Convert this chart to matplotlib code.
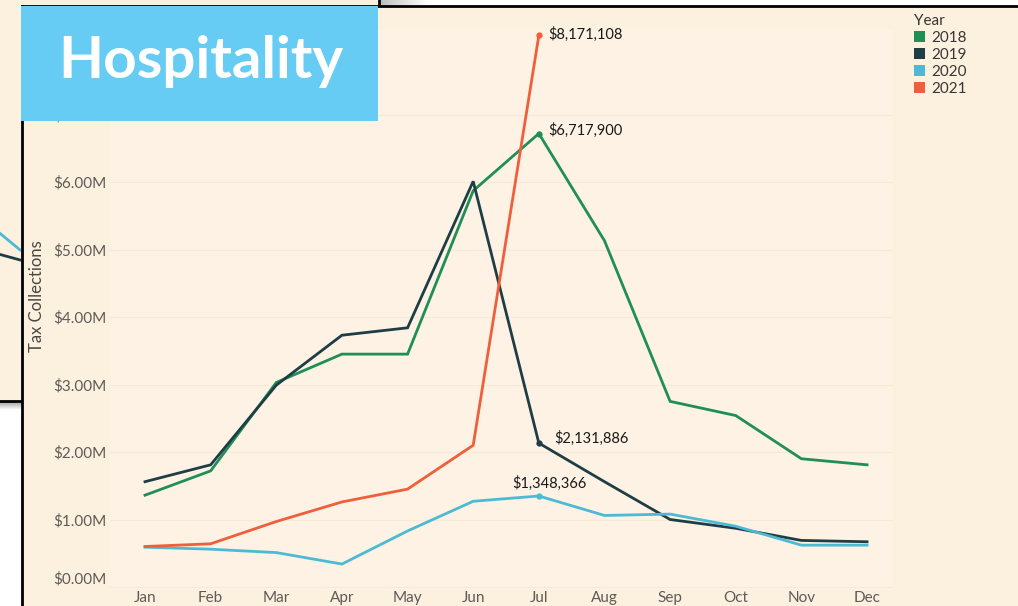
import numpy as np
import matplotlib
matplotlib.use("Agg")
import matplotlib.pyplot as plt
from matplotlib.patches import Rectangle, Patch
import matplotlib.transforms as mtransforms

# --- data (millions of dollars) ---
months = ["Jan", "Feb", "Mar", "Apr", "May", "Jun", "Jul", "Aug", "Sep", "Oct", "Nov", "Dec"]
tax_2018 = [1.36, 1.72, 3.03, 3.45, 3.45, 5.87, 6.717900, 5.13, 2.75, 2.54, 1.90, 1.81]
tax_2019 = [1.56, 1.81, 2.99, 3.73, 3.84, 6.01, 2.131886, 1.56, 1.00, 0.87, 0.69, 0.67]
tax_2020 = [0.59, 0.56, 0.51, 0.34, 0.83, 1.27, 1.348366, 1.06, 1.08, 0.90, 0.62, 0.62]
tax_2021 = [0.60, 0.64, 0.97, 1.26, 1.45, 2.10, 8.171108]
years = ["2018", "2019", "2020", "2021"]
y_ticks = [0, 1, 2, 3, 4, 5, 6, 7]

# partly hidden chart lying behind the main one
behind_months = [10, 11]
behind_2020 = [3.36, 3.0]
behind_2019 = [2.92, 2.8]

colors = {"2018": "#1F8E57", "2019": "#1F3D45", "2020": "#4DBAD5", "2021": "#EF5F3C"}
cream = "#FCF0DF"
plot_bg = "#FDF2E3"
banner_blue = "#66CCF4"

W, H = 1018, 606
FONT = ["Lato", "DejaVu Sans"]
plt.rcParams["font.family"] = FONT


def rect(x0, y0, x1, y1):
    return [x0 / W, 1 - y1 / H, (x1 - x0) / W, (y1 - y0) / H]


fig = plt.figure(figsize=(W / 100, H / 100), dpi=100, facecolor="white")

# page background with shadows
bg = fig.add_axes([0, 0, 1, 1], zorder=0)
bg.set_xlim(0, W)
bg.set_ylim(H, 0)
bg.axis("off")
grad_v = np.linspace(0.6, 1.0, 20).reshape(-1, 1)
bg.imshow(grad_v, cmap="gray", vmin=0, vmax=1, extent=(0, 30, 410, 401), aspect="auto")
grad_h = np.linspace(0.45, 1.0, 40) ** 0.4
bg.imshow(grad_h.reshape(1, -1), cmap="gray", vmin=0, vmax=1, extent=(379, 430, 6, 0), aspect="auto")

# behind panel
back = fig.add_axes(rect(-2, -2, 379, 401), zorder=1, facecolor=cream)
back.set_xlim(10, 10 + 381 / 22)
back.set_ylim(0, 8)
for s in ["top", "left"]:
    back.spines[s].set_visible(False)
back.spines["bottom"].set_linewidth(2)
back.spines["right"].set_linewidth(2)
back.set_xticks([])
back.set_yticks([])
back.plot(behind_months, behind_2020, color=colors["2020"], lw=2)
back.plot(behind_months, behind_2019, color=colors["2019"], lw=2)

# main panel
panel = fig.add_axes(rect(22, 6, W + 5, H + 5), zorder=2, facecolor=cream)
for s in ["right", "bottom"]:
    panel.spines[s].set_visible(False)
panel.spines["left"].set_linewidth(2)
panel.spines["top"].set_linewidth(2)
panel.set_xticks([])
panel.set_yticks([])

# data axes: Jan at px 145, step 65.64 px; $0 at px 587, 67.5 px per $1M
px0, px_step, py0, py_step = 145, 65.64, 587, 67.5
ax_l, ax_r, ax_t, ax_b = 110, 893, 30, 590
ax = fig.add_axes(rect(ax_l, ax_t, ax_r, ax_b), zorder=3, facecolor=plot_bg)
ax.set_xlim((ax_l - px0) / px_step, (ax_r - px0) / px_step)
ax.set_ylim((py0 - ax_b) / py_step, (py0 - ax_t) / py_step)
for s in ax.spines.values():
    s.set_visible(False)

x = np.arange(len(months))
series = {"2018": tax_2018, "2019": tax_2019, "2020": tax_2020, "2021": tax_2021}
for yr in years:
    vals = series[yr]
    ax.plot(x[:len(vals)], vals, color=colors[yr], lw=2.0, solid_joinstyle="miter")

ax.grid(axis="y", color="#F6E9D6", lw=0.8)
ax.set_axisbelow(True)

ax.set_xticks(x, months)
ax.set_yticks(y_ticks, [f"${v:.2f}M" for v in y_ticks])
ax.tick_params(axis="both", length=0, labelsize=11, colors="#5F5B57")
ax.tick_params(axis="y", pad=2.2)
ax.tick_params(axis="x", pad=1.0)
# the $0.00M label sits a little higher than its gridline
lbl0 = ax.yaxis.get_major_ticks()[0].label1
lbl0.set_transform(lbl0.get_transform() + mtransforms.ScaledTranslation(0, 9 / 100, fig.dpi_scale_trans))

fig.text(37 / W, 1 - 296 / H, "Tax Collections", rotation=90, ha="center", va="center",
         fontsize=12, color="#4A4744", zorder=5)

# labelled July points
jul = 6
ann = [
    ("2021", tax_2021[jul], (9, 1), "left"),
    ("2018", tax_2018[jul], (9, 3), "left"),
    ("2019", tax_2019[jul], (15, 5), "left"),
    ("2020", tax_2020[jul], (11, 13), "center"),
]
for yr, v, off, ha in ann:
    ax.plot(jul, v, "o", color=colors[yr], ms=3.5)
    ax.annotate(f"${v * 1e6:,.0f}", (jul, v), xytext=off, textcoords="offset pixels",
                ha=ha, va="center", fontsize=10.5, color="#1A1A1A")

# legend
handles = [Patch(facecolor=colors[yr], edgecolor="none", label=yr) for yr in years]
leg = fig.legend(handles=handles, title="Year", loc="upper left",
                 bbox_to_anchor=(903 / W, 1 - 3 / H), frameon=False, fontsize=11,
                 title_fontsize=11, handlelength=0.75, handleheight=0.75, handletextpad=0.4,
                 labelspacing=0.2, borderpad=0.2, alignment="left")
for t in leg.get_texts():
    t.set_color("#3A3633")
leg.get_title().set_color("#3A3633")
leg.set_zorder(6)

# banner
fig.add_artist(Rectangle((21 / W, 1 - 121 / H), 357 / W, 115 / H, transform=fig.transFigure,
                         facecolor=banner_blue, edgecolor="none", zorder=10))
fig.text(201 / W, 1 - 62 / H, "Hospitality", ha="center", va="center", color="white",
         fontsize=42, fontweight="bold", zorder=11)

fig.savefig("out.png", dpi=100, facecolor="white")
